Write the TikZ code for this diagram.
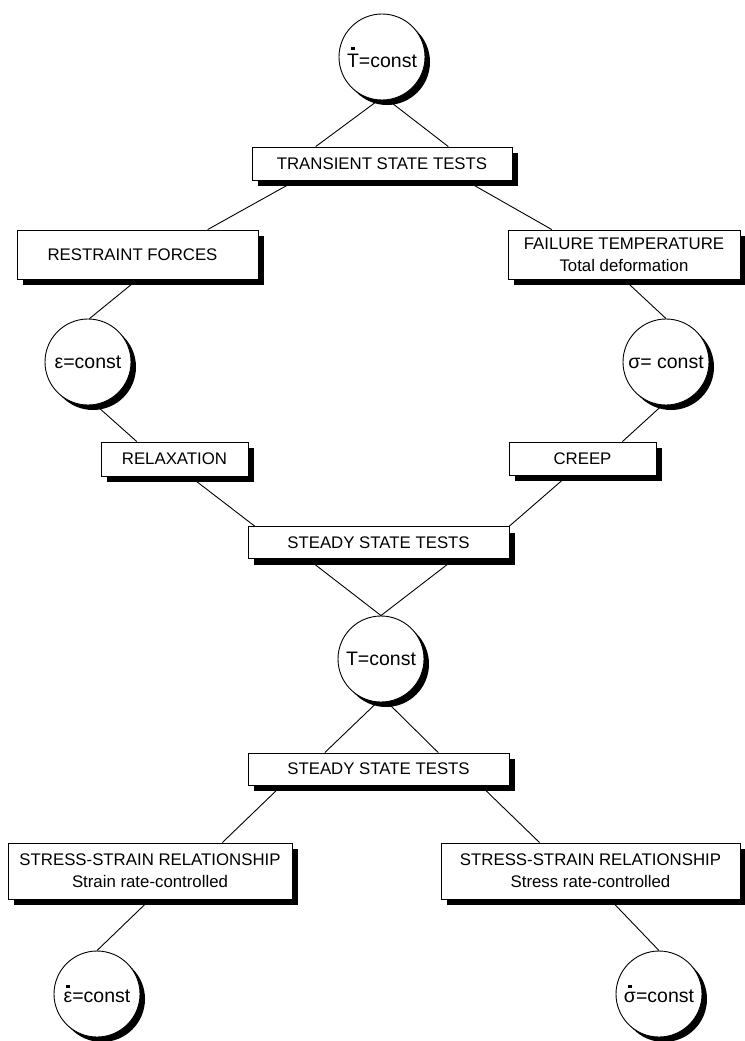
\documentclass[tikz,border=0pt]{standalone}
\usepackage{fontspec}
\setmainfont{Liberation Sans}
\usetikzlibrary{shadows,calc}
\newsavebox\dotbox
\newcommand{\sqd}[1]{\sbox\dotbox{#1}\rlap{\hbox to\wd\dotbox{\hss\raisebox{\dimexpr\ht\dotbox+4pt\relax}{\rule{3.2pt}{3.2pt}}\hss}}\usebox\dotbox}
\begin{document}
\begin{tikzpicture}[x=1pt,y=-1pt,
  box/.style={draw, line width=0.9pt, fill=white, font=\fontsize{16.8}{22}\selectfont, align=center, inner sep=0pt,
    drop shadow={shadow xshift=6pt,shadow yshift=-6pt,opacity=1,fill=black}},
  disc/.style={circle, draw, line width=0.9pt, fill=white, minimum size=86pt, inner sep=0pt,
    font=\fontsize{19.5}{22}\selectfont,
    drop shadow={shadow xshift=5pt,shadow yshift=-5pt,opacity=1,fill=black}},
  link/.style={line width=0.9pt}]
\useasboundingbox (0,0) rectangle (744,1041);
% nodes
\node[disc] (tdot) at (382,57) {\sqd{T}=const};
\node[box, minimum width=260pt, minimum height=33pt] (tr) at (382,163.5) {TRANSIENT STATE TESTS};
\node[box, minimum width=241pt, minimum height=49pt] (rf) at (137.5,254.5) {RESTRAINT FORCES\hspace{10pt}};
\node[box, minimum width=232pt, minimum height=49pt] (ft) at (624,254.5) {FAILURE TEMPERATURE\\Total deformation};
\node[disc] (eps) at (88,362) {ε=const};
\node[disc] (sig) at (666,362) {σ= const};
\node[box, minimum width=147pt, minimum height=34pt] (rel) at (174.5,459) {RELAXATION};
\node[box, minimum width=147pt, minimum height=33pt] (cr) at (582.5,458.5) {CREEP};
\node[box, minimum width=261pt, minimum height=32pt] (st1) at (378.5,542.5) {STEADY STATE TESTS};
\node[disc] (tc) at (381,659) {T=const};
\node[box, minimum width=261pt, minimum height=32pt] (st2) at (378.5,769) {STEADY STATE TESTS};
\node[box, minimum width=284pt, minimum height=56pt] (ssl) at (150,871) {STRESS-STRAIN RELATIONSHIP\\Strain rate-controlled};
\node[box, minimum width=299pt, minimum height=56pt] (ssr) at (590.5,871) {STRESS-STRAIN RELATIONSHIP\\Stress rate-controlled};
\node[disc] (edot) at (97,994) {\sqd{ε}=const};
\node[disc] (sdot) at (659,994) {\sqd{σ}=const};
% connectors
\draw[link] (tdot.-95) -- ($(tr.north west)!0.246!(tr.north east)$);
\draw[link] (tdot.-82) -- ($(tr.north west)!0.754!(tr.north east)$);
\draw[link] ($(tr.south west)!0.17!(tr.south east)$) -- ($(rf.north west)!0.79!(rf.north east)$);
\draw[link] ($(tr.south west)!0.82!(tr.south east)$) -- ($(ft.north west)!0.19!(ft.north east)$);
\draw[link] (rf.south) -- (eps.88);
\draw[link] (ft.south) -- (sig.north);
\draw[link] (eps.-80) -- ($(rel.north west)!0.245!(rel.north east)$);
\draw[link] (sig.-95) -- ($(cr.north west)!0.77!(cr.north east)$);
\draw[link] ($(rel.south west)!0.605!(rel.south east)$) -- ($(st1.north west)!0.027!(st1.north east)$);
\draw[link] ($(cr.south west)!0.40!(cr.south east)$) -- (st1.north east);
\draw[link] ($(st1.south west)!0.23!(st1.south east)$) -- (tc.north);
\draw[link] ($(st1.south west)!0.79!(st1.south east)$) -- (tc.north);
\draw[link] (tc.-95) -- ($(st2.north west)!0.295!(st2.north east)$);
\draw[link] (tc.-82) -- ($(st2.north west)!0.728!(st2.north east)$);
\draw[link] ($(st2.south west)!0.13!(st2.south east)$) -- ($(ssl.north west)!0.754!(ssl.north east)$);
\draw[link] ($(st2.south west)!0.89!(st2.south east)$) -- ($(ssr.north west)!0.33!(ssr.north east)$);
\draw[link] (ssl.south) -- (edot.north);
\draw[link] ($(ssr.south west)!0.565!(ssr.south east)$) -- (sdot.north);
\end{tikzpicture}
\end{document}
